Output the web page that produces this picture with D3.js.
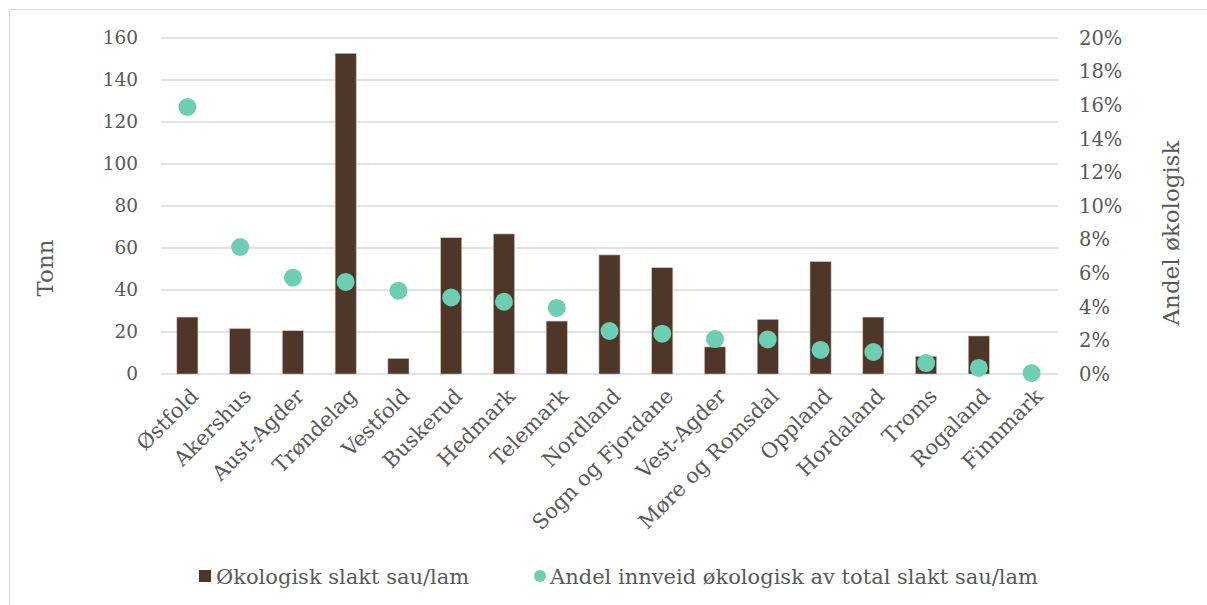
<!DOCTYPE html>
<html>
<head>
<meta charset="utf-8">
<script src="https://cdn.jsdelivr.net/npm/d3@7"></script>
<style>
  html, body { margin: 0; padding: 0; background: #fff; }
  svg { display: block; font-family: "DejaVu Serif", Georgia, serif; }
  .tick text { fill: #595959; }
</style>
</head>
<body>
<svg id="chart" width="1207" height="605"></svg>
<script>
// data
const regions = ["Østfold", "Akershus", "Aust-Agder", "Trøndelag", "Vestfold", "Buskerud",
  "Hedmark", "Telemark", "Nordland", "Sogn og Fjordane", "Vest-Agder", "Møre og Romsdal",
  "Oppland", "Hordaland", "Troms", "Rogaland", "Finnmark"];
const tonn = [27.1, 21.6, 20.6, 152.7, 7.4, 64.9, 66.7, 25.2, 56.7, 50.6, 12.9, 26.0,
  53.5, 27.1, 8.4, 18.1, 0];
const andel = [0.159, 0.0756, 0.0573, 0.0548, 0.0496, 0.0456, 0.043, 0.0393, 0.0256,
  0.024, 0.0208, 0.0206, 0.0143, 0.0131, 0.0065, 0.0036, 0.0006];
const leftTicks = [0, 20, 40, 60, 80, 100, 120, 140, 160];
const rightTicks = [0, 0.02, 0.04, 0.06, 0.08, 0.10, 0.12, 0.14, 0.16, 0.18, 0.20];
const legendLabels = ["Økologisk slakt sau/lam", "Andel innveid økologisk av total slakt sau/lam"];

const barColor = "#4e3629";
const dotColor = "#6dcfb2";
const textColor = "#595959";

const svg = d3.select("#chart");

// outer frame
svg.append("rect")
  .attr("x", 9.5).attr("y", 9.5)
  .attr("width", 1400).attr("height", 800)
  .attr("fill", "none")
  .attr("stroke", "#d9d9d9");

const plot = { left: 161, right: 1058, top: 38, bottom: 374 };

const x = d3.scaleBand()
  .domain(regions)
  .range([plot.left, plot.right])
  .paddingInner(0.6)
  .paddingOuter(0.3);

const yL = d3.scaleLinear().domain([0, 160]).range([plot.bottom, plot.top]);
const yR = d3.scaleLinear().domain([0, 0.20]).range([plot.bottom, plot.top]);

// gridlines
svg.append("g")
  .selectAll("line")
  .data(leftTicks)
  .join("line")
  .attr("x1", plot.left).attr("x2", plot.right)
  .attr("y1", d => yL(d)).attr("y2", d => yL(d))
  .attr("stroke", "#d9d9d9")
  .attr("stroke-width", 1.3);

// left axis
const leftAxis = svg.append("g")
  .attr("transform", `translate(${plot.left},0)`)
  .call(d3.axisLeft(yL).tickValues(leftTicks).tickSize(0).tickPadding(23));
leftAxis.select(".domain").remove();
leftAxis.selectAll("text").attr("font-size", 18.5).attr("font-family", "DejaVu Serif");

// right axis
const rightAxis = svg.append("g")
  .attr("transform", `translate(${plot.right},0)`)
  .call(d3.axisRight(yR).tickValues(rightTicks).tickSize(0).tickPadding(21)
    .tickFormat(d3.format(".0%")));
rightAxis.select(".domain").remove();
rightAxis.selectAll("text").attr("font-size", 19.5).attr("font-family", "DejaVu Serif");

// bars
svg.append("g")
  .selectAll("rect")
  .data(regions)
  .join("rect")
  .attr("x", d => x(d))
  .attr("width", x.bandwidth())
  .attr("y", (d, i) => yL(tonn[i]))
  .attr("height", (d, i) => yL(0) - yL(tonn[i]))
  .attr("fill", barColor)
  .attr("stroke", "#c9bfb8")
  .attr("stroke-width", 0.6);

// dots
svg.append("g")
  .selectAll("circle")
  .data(regions)
  .join("circle")
  .attr("cx", d => x(d) + x.bandwidth() / 2)
  .attr("cy", (d, i) => yR(andel[i]))
  .attr("r", 9)
  .attr("fill", dotColor);

// category labels
svg.append("g")
  .selectAll("text")
  .data(regions)
  .join("text")
  .attr("transform", d => `translate(${x(d) + x.bandwidth() / 2 + 2},${plot.bottom + 13}) rotate(-45)`)
  .attr("text-anchor", "end")
  .attr("dy", "0.7em")
  .attr("font-size", 21)
  .attr("fill", textColor)
  .text(d => d);

// axis titles
svg.append("text")
  .attr("transform", "translate(53,268) rotate(-90)")
  .attr("text-anchor", "middle")
  .attr("font-size", 23)
  .attr("fill", textColor)
  .text("Tonn");

svg.append("text")
  .attr("transform", "translate(1179,233) rotate(-90)")
  .attr("text-anchor", "middle")
  .attr("font-size", 23)
  .attr("fill", textColor)
  .text("Andel økologisk");

// legend
const legend = svg.append("g").attr("font-size", 21).attr("fill", textColor);
legend.append("rect")
  .attr("x", 199).attr("y", 570)
  .attr("width", 12).attr("height", 12)
  .attr("fill", barColor);
legend.append("text")
  .attr("x", 216).attr("y", 584)
  .text(legendLabels[0]);
legend.append("circle")
  .attr("cx", 540).attr("cy", 576)
  .attr("r", 6)
  .attr("fill", dotColor);
legend.append("text")
  .attr("x", 550).attr("y", 584)
  .text(legendLabels[1]);
</script>
</body>
</html>
